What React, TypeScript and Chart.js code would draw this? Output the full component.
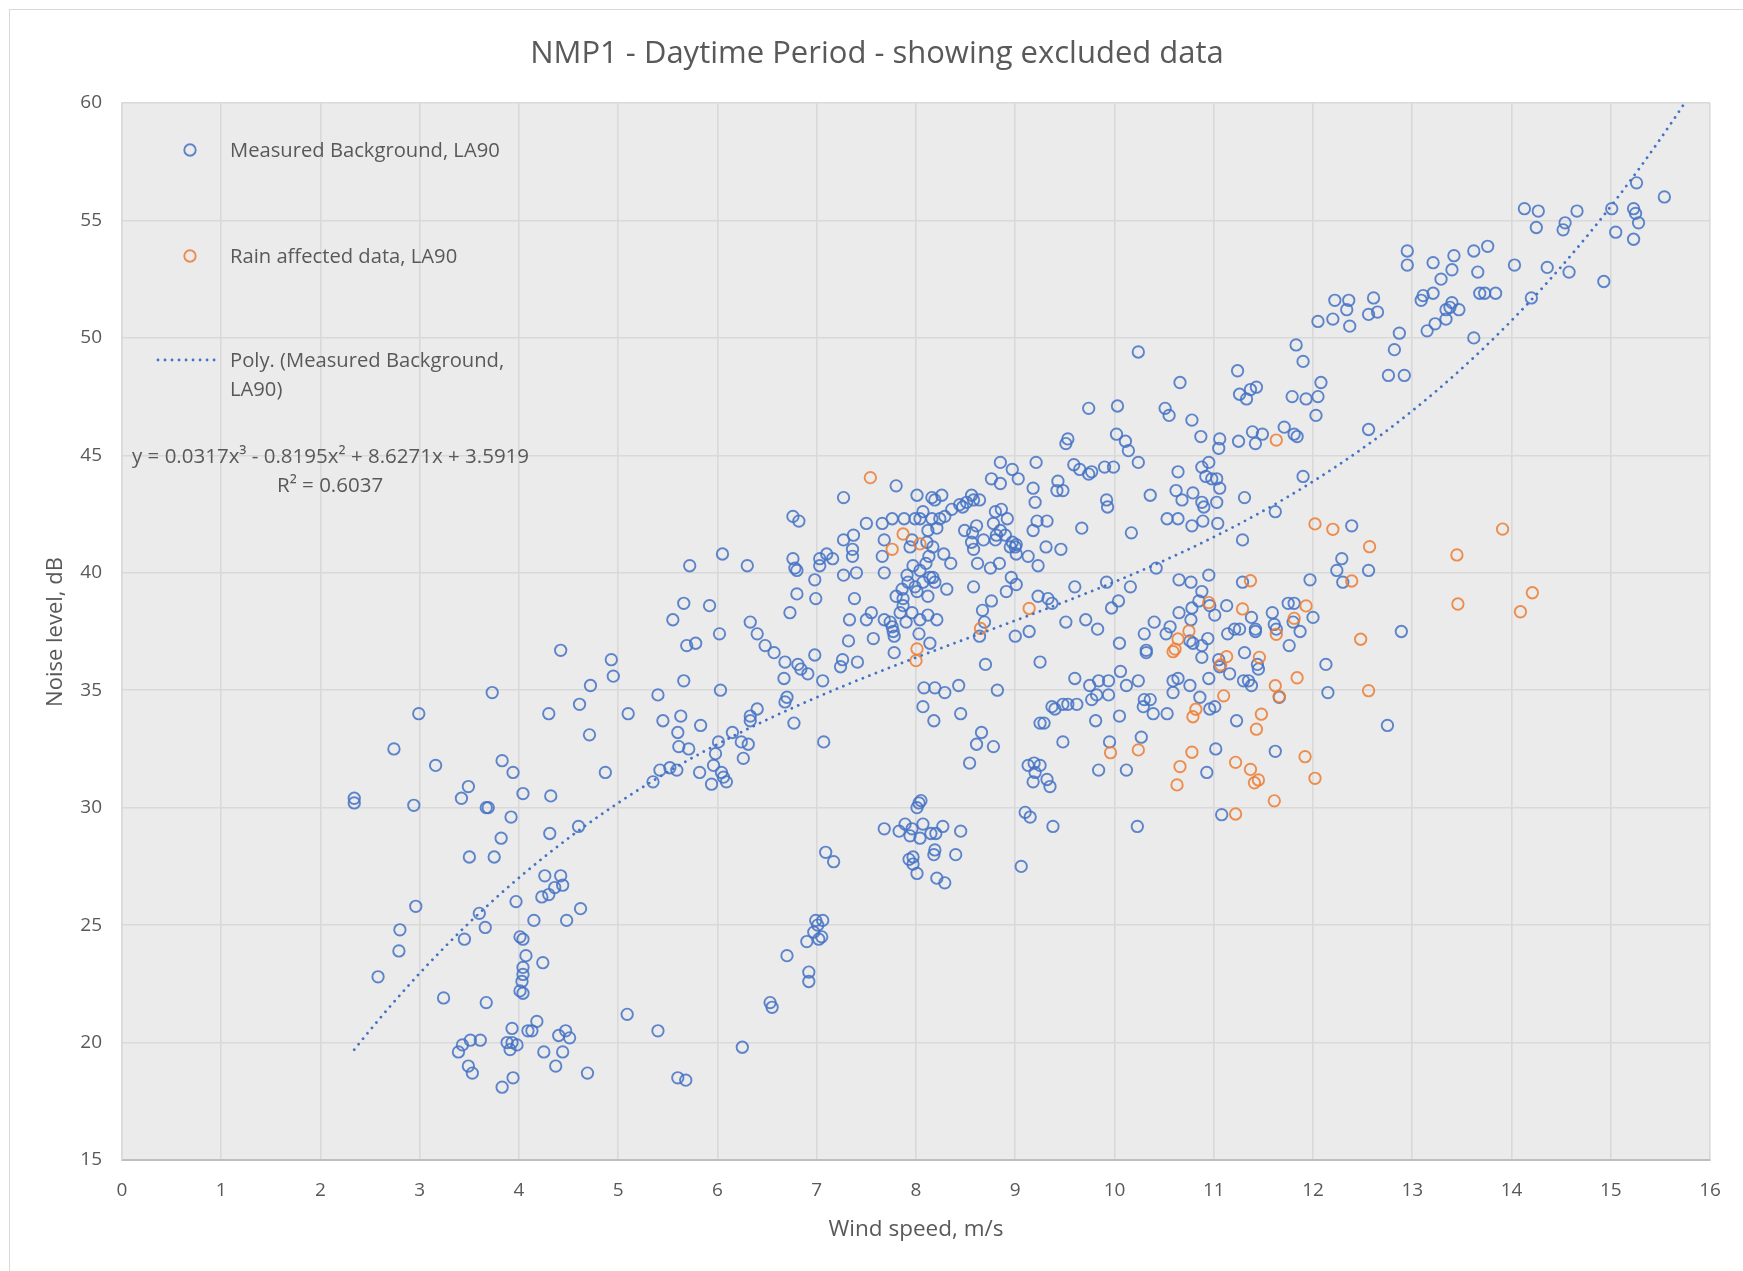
import React, { useEffect, useRef } from "react";
import { Chart, registerables } from "chart.js";

Chart.register(...registerables);

// ---- Data ----
const measuredWind = [
  2.34, 2.34, 2.74, 2.99, 2.94, 2.58, 2.80, 2.79, 2.96, 3.16, 3.24, 3.42, 3.49, 3.50, 3.45, 3.60, 3.66, 3.67, 3.69, 3.73,
  3.67, 3.75, 3.83, 3.82, 3.92, 3.94, 3.97, 4.04, 4.01, 4.04, 4.07, 4.04, 4.04, 4.03, 4.01, 4.04, 4.15, 4.23, 4.30, 4.26,
  4.31, 4.30, 4.32, 4.36, 4.44, 4.42, 4.42, 4.48, 4.61, 4.60, 4.62, 4.71, 4.72, 4.87, 4.93, 4.95, 5.10, 4.24,
  3.39, 3.43, 3.51, 3.61, 3.49, 3.53, 3.83, 3.94, 3.88, 3.93, 3.98, 3.91, 3.93, 4.09, 4.13, 4.18, 4.25, 4.37, 4.40, 4.44,
  4.47, 4.51, 4.69, 5.09, 5.40, 5.60, 5.68, 6.25,
  8.01, 8.03, 8.05, 9.10, 9.15, 7.68, 7.83, 7.89, 7.96, 7.94, 8.07, 8.04, 8.15, 8.20, 8.27, 8.45, 8.40, 8.19, 8.18, 7.97,
  7.93, 7.97, 8.01, 8.21, 8.29, 9.06, 7.09, 7.17, 6.99, 7.06, 7.01, 6.97, 7.05, 7.02, 6.90, 6.70, 6.92, 6.92, 6.53, 6.55,
  9.38, 10.23, 11.08,
  5.40, 5.45, 5.63, 5.60, 5.61, 5.71, 5.42, 5.52, 5.59, 5.35, 5.55, 5.66, 5.69, 5.66, 5.72,
  5.83, 5.98, 6.01, 6.15, 6.24, 6.31, 6.33, 6.40, 6.33, 6.26, 5.96, 5.82, 5.94, 6.04, 6.06, 6.09, 5.78, 5.92, 6.05, 6.30,
  6.02, 6.03, 6.33, 6.40, 6.48, 6.57, 6.73, 6.80, 6.76, 6.78, 6.80, 6.76, 6.82, 6.98, 6.99, 7.03, 7.03, 7.10, 7.16, 7.27,
  7.37, 7.36, 7.36, 7.27, 7.40, 7.38, 7.33, 7.32, 7.41, 7.26, 7.24, 6.98, 7.06, 6.68, 6.81, 6.84, 6.91, 6.67, 6.70, 6.68,
  6.77, 7.07, 7.27, 7.50, 7.66, 7.76, 7.88, 7.68, 7.80, 8.01, 8.16, 8.19, 8.26, 8.07, 7.99, 8.04, 8.16, 8.24, 8.29, 8.36,
  8.44, 8.47, 8.51, 8.56, 8.58, 8.64, 8.76, 8.85, 8.85, 8.97, 9.03, 9.21, 9.18, 9.20, 9.22, 9.18, 8.80, 8.86, 8.92, 8.78,
  8.85, 8.81, 8.80, 8.90, 8.97, 9.00, 9.01, 8.95, 9.01, 9.13, 9.23, 8.49, 8.57, 8.61, 8.68, 8.56, 8.58, 8.62, 8.75, 8.84,
  8.96, 9.01, 8.91, 8.76, 8.58, 8.67, 8.69, 8.64, 9.14, 9.00, 9.23, 9.25, 8.70, 8.43, 8.82, 8.45, 8.66, 8.61, 8.78, 8.54,
  9.13, 9.19, 9.20, 9.18, 9.25, 8.08, 8.19, 8.29, 8.07, 8.18, 8.14, 7.78, 7.57, 7.77, 7.78, 7.76, 7.94, 7.96, 8.12, 8.21,
  8.11, 8.17, 8.28, 8.35, 7.66, 7.68, 7.97, 8.04, 8.10, 8.13, 8.14, 8.19, 8.17, 8.31, 7.91, 7.92, 7.86, 7.87, 7.80, 8.01,
  7.99, 8.12, 8.07, 7.87, 7.84, 7.96, 8.04, 8.12, 8.21, 7.90, 8.03, 7.68, 7.55, 7.50, 7.74,
  9.59, 9.65, 9.74, 9.77, 9.90, 9.99, 10.24, 10.14, 9.43, 9.42, 9.48, 9.92, 9.93, 10.36, 10.64, 10.62, 10.68, 10.79, 10.88, 10.95,
  10.92, 10.98, 11.03, 11.06, 10.88, 10.90, 11.03, 11.31, 11.90, 11.62, 10.53, 10.64, 10.78, 10.89, 11.04, 10.17, 11.29, 9.67, 9.32, 9.31,
  9.46, 10.42, 9.92, 10.16, 9.60, 9.33, 9.37, 10.04, 9.97, 9.51, 9.71, 9.83, 10.65, 10.77, 10.95, 11.29, 10.88, 10.85, 10.78, 10.65,
  10.77, 10.96, 11.01, 11.13, 10.40, 10.30, 10.52, 10.56, 10.05, 10.32, 10.32, 10.76, 10.79, 10.88, 10.94, 10.88, 11.05, 11.06, 11.14, 11.21,
  11.26, 11.38, 11.42, 11.42, 11.31, 11.44, 11.45, 11.59, 11.61, 11.63, 11.75, 11.81, 11.80, 11.87, 12.00, 11.76, 11.97, 12.29, 12.24, 12.30,
  12.39, 12.56, 12.13, 12.15, 11.66, 11.23, 10.96, 11.01, 10.86, 10.76, 10.95, 10.59, 10.64, 10.59, 11.16, 11.30, 11.35, 11.38, 10.30, 10.36,
  10.39, 10.53, 10.29, 10.06, 10.24, 10.12, 9.94, 9.94, 9.84, 9.75, 9.82, 9.77, 9.60, 10.05, 9.37, 9.40, 9.48, 9.53, 9.62, 9.29,
  9.81, 9.48, 9.95, 10.27, 10.12, 9.84, 9.25, 9.32, 9.35, 11.02, 11.62, 10.93, 12.89, 12.75,
  12.22, 12.36, 12.34, 12.20, 12.05, 12.37, 10.24, 11.83, 11.90, 12.08, 12.05, 12.03, 11.79, 11.93, 11.24, 11.26, 11.33, 11.37, 11.43, 10.66,
  9.74, 10.03, 10.51, 10.55, 10.78, 10.87, 10.02, 10.11, 9.51, 9.53, 11.06, 11.05, 11.25, 11.39, 11.42, 11.49, 11.71, 11.81, 11.84, 12.56,
  15.26, 15.54, 14.13, 14.27, 14.66, 15.01, 15.23, 15.25, 15.28, 15.23, 15.05, 14.25, 14.54, 14.52, 12.95, 12.95, 13.21, 13.42, 13.40, 13.62,
  13.76, 13.66, 14.03, 14.36, 14.58, 13.29, 13.21, 13.11, 13.09, 13.40, 13.38, 13.34, 13.47, 13.68, 13.73, 13.84, 13.34, 13.23, 13.15, 14.20,
  14.93, 13.62, 12.87, 12.82, 12.76, 12.92, 12.61, 12.56, 12.65,
];

const measuredLevel = [
  30.4, 30.2, 32.5, 34.0, 30.1, 22.8, 24.8, 23.9, 25.8, 31.8, 21.9, 30.4, 30.9, 27.9, 24.4, 25.5, 24.9, 30.0, 30.0, 34.9,
  21.7, 27.9, 32.0, 28.7, 29.6, 31.5, 26.0, 30.6, 24.5, 24.4, 23.7, 23.2, 22.9, 22.6, 22.2, 22.1, 25.2, 26.2, 26.3, 27.1,
  28.9, 34.0, 30.5, 26.6, 26.7, 27.1, 36.7, 25.2, 34.4, 29.2, 25.7, 33.1, 35.2, 31.5, 36.3, 35.6, 34.0, 23.4,
  19.6, 19.9, 20.1, 20.1, 19.0, 18.7, 18.1, 18.5, 20.0, 20.0, 19.9, 19.7, 20.6, 20.5, 20.5, 20.9, 19.6, 19.0, 20.3, 19.6,
  20.5, 20.2, 18.7, 21.2, 20.5, 18.5, 18.4, 19.8,
  30.0, 30.2, 30.3, 29.8, 29.6, 29.1, 29.0, 29.3, 29.1, 28.8, 29.3, 28.7, 28.9, 28.9, 29.2, 29.0, 28.0, 28.2, 28.0, 27.9,
  27.8, 27.6, 27.2, 27.0, 26.8, 27.5, 28.1, 27.7, 25.2, 25.2, 25.0, 24.7, 24.5, 24.4, 24.3, 23.7, 23.0, 22.6, 21.7, 21.5,
  29.2, 29.2, 29.7,
  34.8, 33.7, 33.9, 33.2, 32.6, 32.5, 31.6, 31.7, 31.6, 31.1, 38.0, 38.7, 36.9, 35.4, 40.3,
  33.5, 32.3, 32.8, 33.2, 32.8, 32.7, 33.9, 34.2, 33.7, 32.1, 31.8, 31.5, 31.0, 31.5, 31.3, 31.1, 37.0, 38.6, 40.8, 40.3,
  37.4, 35.0, 37.9, 37.4, 36.9, 36.6, 38.3, 39.1, 40.6, 40.2, 40.1, 42.4, 42.2, 39.7, 38.9, 40.6, 40.3, 40.8, 40.6, 41.4,
  41.6, 41.0, 40.7, 39.9, 40.0, 38.9, 38.0, 37.1, 36.2, 36.3, 36.0, 36.5, 35.4, 36.2, 36.1, 35.9, 35.7, 35.5, 34.7, 34.5,
  33.6, 32.8, 43.2, 42.1, 42.1, 42.3, 42.3, 41.4, 43.7, 43.3, 43.2, 43.1, 43.3, 42.6, 42.3, 42.3, 42.3, 42.3, 42.4, 42.7,
  42.9, 42.8, 43.0, 43.3, 43.1, 43.1, 44.0, 43.8, 44.7, 44.4, 44.0, 44.7, 43.6, 43.0, 42.2, 41.8, 42.6, 42.7, 42.3, 42.1,
  41.8, 41.6, 41.4, 41.6, 41.3, 41.1, 41.2, 41.1, 40.8, 40.7, 40.3, 41.8, 41.7, 42.0, 41.4, 41.3, 41.0, 40.4, 40.2, 40.4,
  39.8, 39.5, 39.2, 38.8, 39.4, 38.4, 37.9, 37.3, 37.5, 37.3, 39.0, 36.2, 36.1, 35.2, 35.0, 34.0, 33.2, 32.7, 32.6, 31.9,
  31.8, 31.9, 31.5, 31.1, 33.6, 35.1, 35.1, 34.9, 34.3, 33.7, 37.0, 36.6, 37.2, 37.5, 37.3, 37.7, 41.1, 41.4, 41.8, 41.9,
  41.3, 41.1, 40.8, 40.4, 40.7, 40.0, 40.3, 40.1, 40.4, 40.7, 39.8, 39.6, 39.8, 39.3, 39.9, 39.6, 39.3, 38.9, 39.0, 39.2,
  39.4, 39.0, 39.6, 38.6, 38.3, 38.3, 38.0, 38.2, 38.0, 37.9, 37.4, 38.0, 38.3, 38.0, 37.9,
  44.6, 44.4, 44.2, 44.3, 44.5, 44.5, 44.7, 45.2, 43.9, 43.5, 43.5, 43.1, 42.8, 43.3, 44.3, 43.5, 43.1, 43.4, 44.5, 44.7,
  44.1, 44.0, 44.0, 43.6, 43.0, 42.8, 43.0, 43.2, 44.1, 42.6, 42.3, 42.3, 42.0, 42.2, 42.1, 41.7, 41.4, 41.9, 42.2, 41.1,
  41.0, 40.2, 39.6, 39.4, 39.4, 38.9, 38.7, 38.8, 38.5, 37.9, 38.0, 37.6, 39.7, 39.6, 39.9, 39.6, 39.2, 38.8, 38.5, 38.3,
  38.0, 38.6, 38.2, 38.6, 37.9, 37.4, 37.4, 37.7, 37.0, 36.7, 36.6, 37.1, 37.0, 36.9, 37.2, 36.4, 36.3, 36.0, 37.4, 37.6,
  37.6, 38.1, 37.6, 37.5, 36.6, 36.1, 35.9, 38.3, 37.8, 37.6, 38.7, 38.7, 37.9, 37.5, 38.1, 36.9, 39.7, 40.6, 40.1, 39.6,
  42.0, 40.1, 36.1, 34.9, 34.7, 33.7, 34.2, 34.3, 34.7, 35.2, 35.5, 35.4, 35.5, 34.9, 35.7, 35.4, 35.4, 35.2, 34.6, 34.6,
  34.0, 34.0, 34.3, 35.8, 35.4, 35.2, 35.4, 34.8, 35.4, 35.2, 34.8, 34.6, 35.5, 33.9, 34.3, 34.2, 34.4, 34.4, 34.4, 33.6,
  33.7, 32.8, 32.8, 33.0, 31.6, 31.6, 31.8, 31.2, 30.9, 32.5, 32.4, 31.5, 37.5, 33.5,
  51.6, 51.6, 51.2, 50.8, 50.7, 50.5, 49.4, 49.7, 49.0, 48.1, 47.5, 46.7, 47.5, 47.4, 48.6, 47.6, 47.4, 47.8, 47.9, 48.1,
  47.0, 47.1, 47.0, 46.7, 46.5, 45.8, 45.9, 45.6, 45.5, 45.7, 45.7, 45.3, 45.6, 46.0, 45.5, 45.9, 46.2, 45.9, 45.8, 46.1,
  56.6, 56.0, 55.5, 55.4, 55.4, 55.5, 55.5, 55.3, 54.9, 54.2, 54.5, 54.7, 54.9, 54.6, 53.7, 53.1, 53.2, 53.5, 52.9, 53.7,
  53.9, 52.8, 53.1, 53.0, 52.8, 52.5, 51.9, 51.8, 51.6, 51.5, 51.3, 51.2, 51.2, 51.9, 51.9, 51.9, 50.8, 50.6, 50.3, 51.7,
  52.4, 50.0, 50.2, 49.5, 48.4, 48.4, 51.7, 51.0, 51.1,
];

const rainWind = [
  7.54, 7.87, 7.76, 8.04, 8.01, 8.00, 8.65, 9.14, 10.59, 10.64, 10.75, 10.95, 11.37, 11.29, 11.13, 11.07, 11.46, 11.63,
  11.93, 11.81, 12.39, 12.02, 12.20, 12.48, 12.57, 12.56, 11.84, 11.62, 11.66, 11.10, 11.48, 11.43, 10.82, 10.79, 9.96,
  10.24, 10.78, 10.66, 10.63, 11.22, 11.37, 11.45, 11.41, 11.92, 12.02, 11.61, 11.22, 11.63, 13.91, 13.45, 13.46, 14.21, 14.09,
  10.61,
];

const rainLevel = [
  44.05, 41.65, 41.0, 41.23, 36.76, 36.26, 37.63, 38.48, 36.64, 37.18, 37.52, 38.73, 39.66, 38.46, 36.43, 36.08, 36.4, 37.38,
  38.59, 38.06, 39.65, 42.08, 41.85, 37.17, 41.11, 34.98, 35.53, 35.19, 34.73, 34.76, 33.98, 33.34, 34.19, 33.87, 32.34,
  32.46, 32.36, 31.75, 30.97, 31.93, 31.63, 31.18, 31.06, 32.17, 31.25, 30.29, 29.73, 45.65, 41.86, 40.76, 38.67, 39.15, 38.34,
  36.75,
];

// Trendline as printed on the chart: y = 0.0317x³ - 0.8195x² + 8.6271x + 3.5919
const trendCoefficients = [3.5919, 8.6271, -0.8195, 0.0317];
const trendEquationText = "y = 0.0317x³ - 0.8195x² + 8.6271x + 3.5919";
const trendR2Text = "R² = 0.6037";

const chartTitle = "NMP1 - Daytime Period - showing excluded data";
const xAxisTitle = "Wind speed, m/s";
const yAxisTitle = "Noise level, dB";
const seriesNames = ["Measured Background, LA90", "Rain affected data, LA90", "Poly. (Measured Background,", "LA90)"];

const BLUE = "rgba(68,114,196,0.85)";
const ORANGE = "rgba(237,125,49,0.85)";
const TEXT = "#595959";
const FONT = "'Open Sans', 'Noto Sans', sans-serif";

function trendPoints() {
  const pts: { x: number; y: number }[] = [];
  const start = Math.min(...measuredWind);
  for (let x = start; x <= 16.0001; x += 0.02) {
    const y =
      trendCoefficients[0] +
      trendCoefficients[1] * x +
      trendCoefficients[2] * x * x +
      trendCoefficients[3] * x * x * x;
    pts.push({ x, y });
  }
  return pts;
}

const decorPlugin = {
  id: "decor",
  beforeDraw(chart: any) {
    const { ctx, chartArea: a } = chart;
    ctx.save();
    ctx.fillStyle = "#ffffff";
    ctx.fillRect(0, 0, chart.width, chart.height);
    ctx.strokeStyle = "#d9d9d9";
    ctx.lineWidth = 1;
    ctx.strokeRect(9.5, 9.5, chart.width, chart.height);
    ctx.fillStyle = "#ebebeb";
    ctx.fillRect(a.left, a.top, a.right - a.left, a.bottom - a.top);
    ctx.restore();
  },
  afterDraw(chart: any) {
    const { ctx } = chart;
    ctx.save();
    ctx.fillStyle = TEXT;
    ctx.textBaseline = "middle";
    // title
    ctx.textAlign = "center";
    ctx.font = `31px ${FONT}`;
    ctx.fillText(chartTitle, 877, 54);
    // axis titles
    ctx.font = `22.5px ${FONT}`;
    ctx.fillText(xAxisTitle, 916, 1230);
    ctx.save();
    ctx.translate(56, 632);
    ctx.rotate(-Math.PI / 2);
    ctx.font = `22px ${FONT}`;
    ctx.fillText(yAxisTitle, 0, 0);
    ctx.restore();

    // legend
    ctx.textAlign = "left";
    ctx.font = `20.2px ${FONT}`;
    ctx.lineWidth = 1.9;
    ctx.strokeStyle = BLUE;
    ctx.beginPath();
    ctx.arc(190, 150, 5.7, 0, Math.PI * 2);
    ctx.stroke();
    ctx.fillText(seriesNames[0], 230, 151);
    ctx.strokeStyle = ORANGE;
    ctx.beginPath();
    ctx.arc(190, 256, 5.7, 0, Math.PI * 2);
    ctx.stroke();
    ctx.fillText(seriesNames[1], 230, 257);
    ctx.strokeStyle = "#4472C4";
    ctx.lineWidth = 2.8;
    ctx.lineCap = "round";
    ctx.setLineDash([0.01, 7]);
    ctx.beginPath();
    ctx.moveTo(158, 360);
    ctx.lineTo(219, 360);
    ctx.stroke();
    ctx.setLineDash([]);
    ctx.fillText(seriesNames[2], 230, 361);
    ctx.fillText(seriesNames[3], 230, 390);
    // equation
    ctx.font = `20.5px ${FONT}`;
    ctx.fillText(trendEquationText, 132, 457);
    ctx.fillText(trendR2Text, 277, 486);
    ctx.restore();
  },
};

export default function App() {
  const ref = useRef<HTMLCanvasElement | null>(null);

  useEffect(() => {
    if (!ref.current) return;
    const chart = new Chart(ref.current, {
      type: "scatter",
      data: {
        datasets: [
          {
            label: seriesNames[0],
            data: measuredWind.map((x, i) => ({ x, y: measuredLevel[i] })),
            pointStyle: "circle",
            pointRadius: 5.7,
            pointBorderWidth: 1.9,
            borderColor: BLUE,
            backgroundColor: "rgba(0,0,0,0)",
            order: 3,
          },
          {
            label: seriesNames[1],
            data: rainWind.map((x, i) => ({ x, y: rainLevel[i] })),
            pointStyle: "circle",
            pointRadius: 5.7,
            pointBorderWidth: 1.9,
            borderColor: ORANGE,
            backgroundColor: "rgba(0,0,0,0)",
            order: 2,
          },
          {
            type: "line",
            label: "Poly.",
            data: trendPoints(),
            showLine: true,
            borderColor: "#4472C4",
            borderWidth: 2.8,
            borderDash: [0.01, 7],
            borderCapStyle: "round",
            pointRadius: 0,
            fill: false,
            tension: 0,
            clip: 0,
            order: 1,
          } as any,
        ],
      },
      options: {
        animation: false,
        responsive: false,
        devicePixelRatio: 1,
        layout: { padding: { top: 103, right: 33, left: 0, bottom: 0 } },
        plugins: {
          legend: { display: false },
          title: { display: false },
          tooltip: { enabled: false },
        },
        scales: {
          x: {
            type: "linear",
            min: 0,
            max: 16,
            ticks: {
              stepSize: 1,
              padding: 19,
              color: TEXT,
              font: { family: FONT, size: 19 },
            },
            grid: { color: "#d9d9d9", lineWidth: 1.6, drawTicks: false },
            border: { color: "#bfbfbf", width: 2 },
            afterFit: (s: any) => {
              s.height = 111;
            },
          },
          y: {
            type: "linear",
            min: 15,
            max: 60,
            ticks: {
              stepSize: 5,
              padding: 20,
              color: TEXT,
              font: { family: FONT, size: 19 },
            },
            grid: { color: "#d9d9d9", lineWidth: 1.6, drawTicks: false },
            border: { color: "#d9d9d9", width: 1.6 },
            afterFit: (s: any) => {
              s.width = 122;
            },
          },
        },
      } as any,
      plugins: [decorPlugin],
    });
    return () => chart.destroy();
  }, []);

  return (
    <div style={{ position: "fixed", left: 0, top: 0, width: 1743, height: 1271, background: "#fff" }}>
      <canvas ref={ref} width={1743} height={1271} style={{ display: "block" }} />
    </div>
  );
}
